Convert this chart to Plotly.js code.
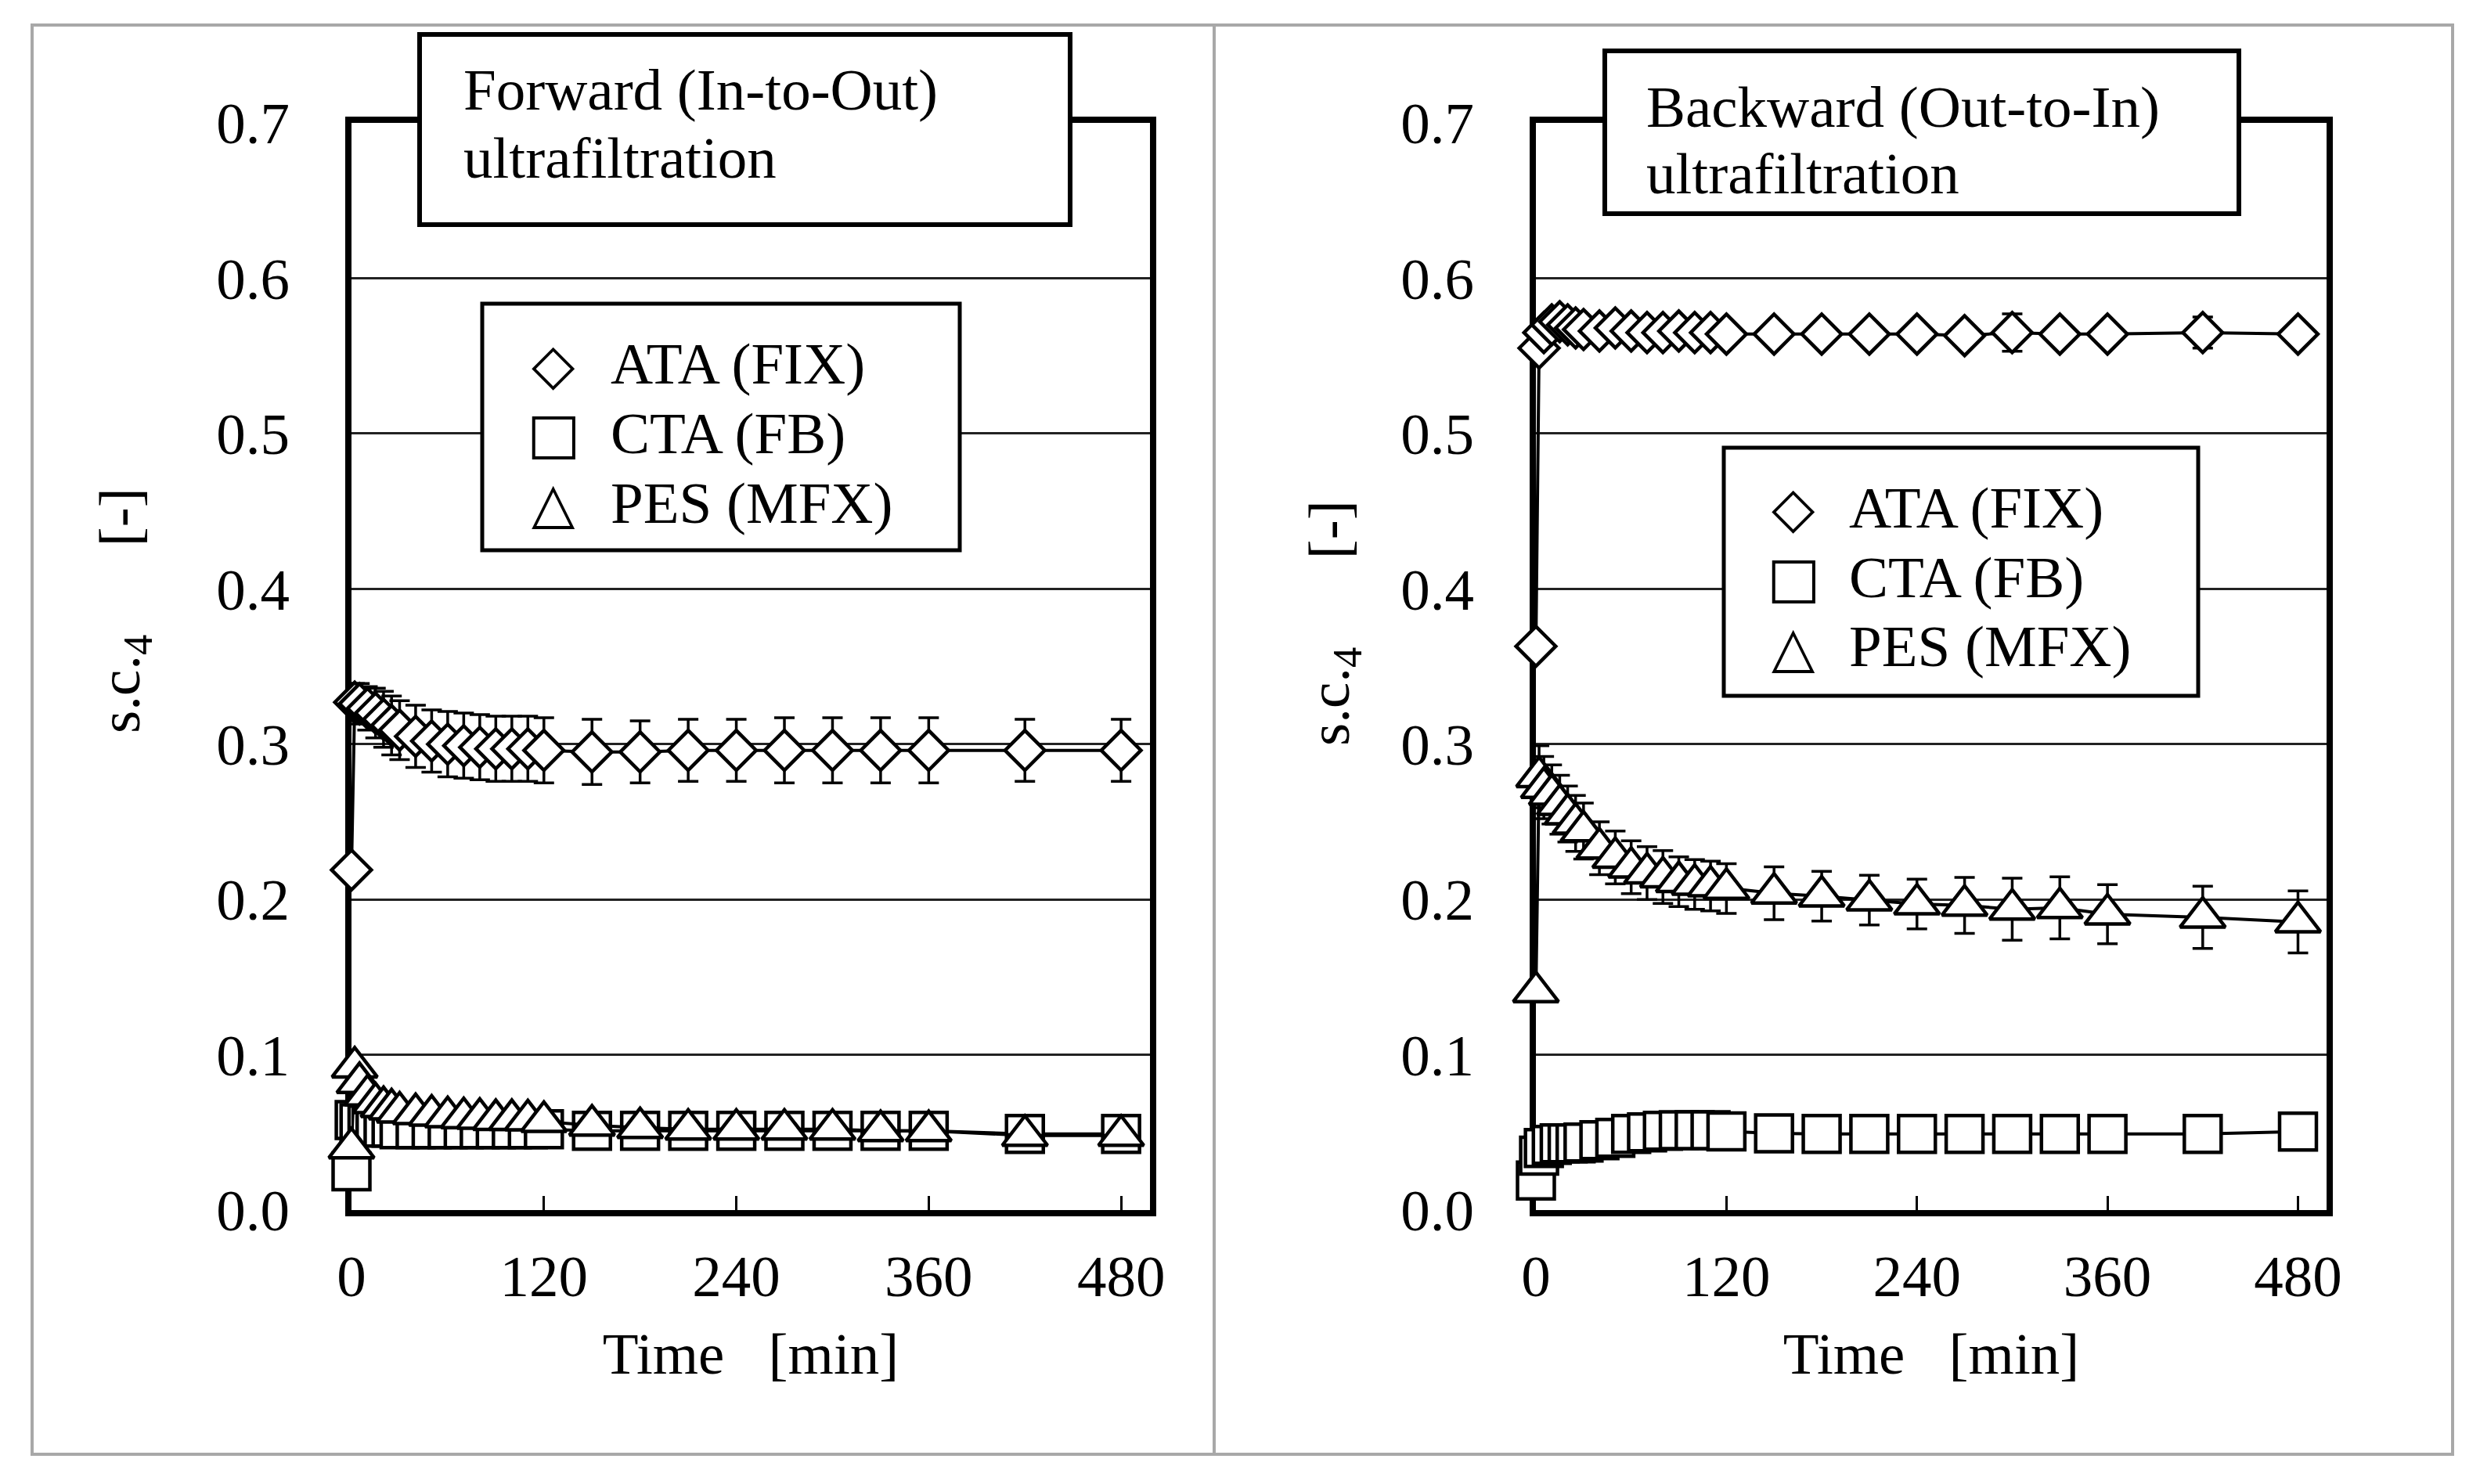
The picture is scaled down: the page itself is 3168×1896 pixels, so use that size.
<!DOCTYPE html>
<html>
<head>
<meta charset="utf-8">
<script src="https://cdn.plot.ly/plotly-3.0.1.min.js"></script>
<style>html,body{margin:0;padding:0;background:#fff;}#chart{width:3168px;height:1896px;}</style>
</head>
<body>
<div id="chart"></div>
<script>
// ---- data ----
const timeMin = [0, 2, 5, 10, 15, 20, 25, 30, 40, 50, 60, 70, 80, 90, 100, 110, 120, 150, 180, 210, 240, 270, 300, 330, 360, 420, 480];

// Forward (In-to-Out) ultrafiltration
const fwdATA = [0.219, 0.327, 0.326, 0.323, 0.320, 0.316, 0.312, 0.309, 0.305, 0.302, 0.300, 0.299, 0.298, 0.297, 0.297, 0.297, 0.296, 0.295, 0.295, 0.296, 0.296, 0.296, 0.296, 0.296, 0.296, 0.296, 0.296];
const fwdATAerr = [0.004, 0.012, 0.013, 0.014, 0.016, 0.018, 0.019, 0.019, 0.020, 0.020, 0.021, 0.021, 0.021, 0.021, 0.021, 0.021, 0.021, 0.021, 0.020, 0.020, 0.020, 0.021, 0.021, 0.021, 0.021, 0.020, 0.020];
const fwdCTA = [0.025, 0.058, 0.056, 0.055, 0.054, 0.053, 0.053, 0.052, 0.052, 0.052, 0.052, 0.052, 0.052, 0.052, 0.052, 0.052, 0.052, 0.051, 0.051, 0.051, 0.051, 0.051, 0.051, 0.051, 0.051, 0.049, 0.049];
const fwdCTAerr = [0.002, 0.003, 0.003, 0.003, 0.003, 0.003, 0.003, 0.003, 0.003, 0.003, 0.003, 0.003, 0.003, 0.003, 0.003, 0.003, 0.003, 0.003, 0.003, 0.003, 0.003, 0.003, 0.003, 0.003, 0.003, 0.003, 0.003];
const fwdPES = [0.040, 0.092, 0.082, 0.074, 0.069, 0.0665, 0.065, 0.063, 0.062, 0.061, 0.060, 0.0594, 0.059, 0.0582, 0.0582, 0.058, 0.057, 0.0546, 0.053, 0.052, 0.052, 0.052, 0.052, 0.051, 0.051, 0.048, 0.048];
const fwdPESerr = [0.003, 0.004, 0.004, 0.004, 0.004, 0.004, 0.004, 0.004, 0.004, 0.004, 0.004, 0.004, 0.004, 0.004, 0.004, 0.004, 0.004, 0.004, 0.004, 0.004, 0.004, 0.004, 0.004, 0.004, 0.004, 0.004, 0.004];

// Backward (Out-to-In) ultrafiltration
const bwdATA = [0.363, 0.555, 0.565, 0.570, 0.572, 0.570, 0.568, 0.567, 0.566, 0.568, 0.566, 0.565, 0.565, 0.566, 0.565, 0.565, 0.564, 0.564, 0.564, 0.564, 0.564, 0.563, 0.565, 0.564, 0.564, 0.565, 0.564];
const bwdATAerr = [0.004, 0.006, 0.006, 0.006, 0.006, 0.006, 0.006, 0.006, 0.006, 0.006, 0.006, 0.006, 0.006, 0.006, 0.006, 0.006, 0.006, 0.006, 0.006, 0.006, 0.006, 0.006, 0.012, 0.006, 0.006, 0.010, 0.006];
const bwdCTA = [0.019, 0.035, 0.040, 0.042, 0.043, 0.043, 0.043, 0.0435, 0.045, 0.0465, 0.049, 0.050, 0.051, 0.0514, 0.0514, 0.0514, 0.0506, 0.0494, 0.049, 0.049, 0.049, 0.049, 0.049, 0.049, 0.049, 0.049, 0.0505];
const bwdCTAerr = [0.002, 0.002, 0.002, 0.002, 0.002, 0.002, 0.002, 0.002, 0.002, 0.002, 0.002, 0.002, 0.002, 0.002, 0.002, 0.002, 0.002, 0.002, 0.002, 0.002, 0.002, 0.002, 0.002, 0.002, 0.002, 0.002, 0.002];
const bwdPES = [0.1405, 0.279, 0.272, 0.2676, 0.261, 0.255, 0.249, 0.244, 0.233, 0.227, 0.2207, 0.217, 0.2144, 0.2114, 0.2097, 0.2086, 0.207, 0.204, 0.2021, 0.1996, 0.197, 0.1962, 0.1937, 0.1946, 0.1905, 0.1885, 0.1855];
const bwdPESerr = [0.003, 0.020, 0.020, 0.019, 0.019, 0.018, 0.018, 0.018, 0.017, 0.017, 0.017, 0.017, 0.017, 0.016, 0.016, 0.016, 0.016, 0.017, 0.016, 0.016, 0.016, 0.018, 0.020, 0.020, 0.019, 0.020, 0.020];

const seriesNames = ['ATA (FIX)', 'CTA (FB)', 'PES (MFX)'];
const panelTitles = [['Forward (In-to-Out)', 'ultrafiltration'], ['Backward (Out-to-In)', 'ultrafiltration']];
const xTickVals = [0, 120, 240, 360, 480];
const yTickVals = [0.0, 0.1, 0.2, 0.3, 0.4, 0.5, 0.6, 0.7];
const xTitle = 'Time\u00a0\u00a0\u00a0[min]';
const yTitle = 's.c.<sub>4</sub>\u00a0\u00a0\u00a0\u00a0\u00a0\u00a0[-]';

// ---- layout helpers (pixel -> paper) ----
const W = 3168, H = 1896;
const fx = x => x / W;
const fy = y => 1 - y / H;
const SERIF = 'Liberation Serif, Times New Roman, serif';
const FS = 75;

const symbols = ['diamond', 'square', 'triangle-up'];
const sizes = [39, 47, 50];
const glyphs = ['\u25C7', '\u25A1', '\u25B3'];

function series(x, y, err, k, xa, ya) {
  return {
    type: 'scatter', mode: 'lines+markers', x: x, y: y, xaxis: xa, yaxis: ya,
    name: seriesNames[k], showlegend: false, cliponaxis: false,
    line: {color: '#000', width: 4},
    marker: {symbol: symbols[k], size: sizes[k], color: '#fff', line: {color: '#000', width: 4.5}},
    error_y: {type: 'data', array: err, visible: true, color: '#000', thickness: 3.5, width: 13}
  };
}

const data = [
  series(timeMin, fwdATA, fwdATAerr, 0, 'x', 'y'),
  series(timeMin, fwdCTA, fwdCTAerr, 1, 'x', 'y'),
  series(timeMin, fwdPES, fwdPESerr, 2, 'x', 'y'),
  series(timeMin, bwdATA, bwdATAerr, 0, 'x2', 'y2'),
  series(timeMin, bwdCTA, bwdCTAerr, 1, 'x2', 'y2'),
  series(timeMin, bwdPES, bwdPESerr, 2, 'x2', 'y2')
];

function xAxis(dom, anchor) {
  return {
    domain: dom, anchor: anchor, range: [0, 498], tickvals: xTickVals, ticktext: xTickVals.map(String),
    showline: true, linecolor: '#000', linewidth: 8, mirror: true,
    ticks: 'inside', ticklen: 18, tickwidth: 3, tickcolor: '#000',
    showgrid: false, zeroline: false, layer: 'below traces',
    tickfont: {family: SERIF, size: FS, color: '#000'}, ticklabelstandoff: 12,
    title: {text: xTitle, standoff: 34, font: {family: SERIF, size: FS, color: '#000'}}
  };
}
function yAxis(dom, anchor) {
  return {
    domain: dom, anchor: anchor, range: [0, 0.7], tickvals: yTickVals, tickformat: '.1f',
    showline: true, linecolor: '#000', linewidth: 8, mirror: true,
    ticks: '', showgrid: true, gridcolor: '#222', gridwidth: 3, zeroline: false, layer: 'below traces',
    tickfont: {family: SERIF, size: FS, color: '#000'}, ticklabelstandoff: 56
  };
}

const yDom = [fy(1546), fy(157)];
const panels = [
  {frame: [41, 32, 1551, 1858], tbox: [536, 44, 1367, 287], tx: 590, ty: [115, 202],
   lbox: [616, 388, 1226, 703], lsx: 707, ltx: 778, lrows: [465, 553, 642], ytx: 158, yty: 780},
  {frame: [1551, 32, 3133, 1858], tbox: [2050, 65, 2860, 273], tx: 2101, ty: [137, 222],
   lbox: [2202, 572, 2808, 889], lsx: 2291, ltx: 2360, lrows: [648, 737, 826], ytx: 1703, yty: 796}
];

const shapes = [];
const annotations = [];
panels.forEach((p, i) => {
  shapes.push({type: 'rect', xref: 'paper', yref: 'paper', x0: fx(p.frame[0]), y0: fy(p.frame[1]), x1: fx(p.frame[2]), y1: fy(p.frame[3]),
    line: {color: '#a8a8a8', width: 4}, layer: 'below'});
  shapes.push({type: 'rect', xref: 'paper', yref: 'paper', x0: fx(p.tbox[0]), y0: fy(p.tbox[1]), x1: fx(p.tbox[2]), y1: fy(p.tbox[3]),
    line: {color: '#000', width: 6}, fillcolor: '#fff', layer: 'above'});
  shapes.push({type: 'rect', xref: 'paper', yref: 'paper', x0: fx(p.lbox[0]), y0: fy(p.lbox[1]), x1: fx(p.lbox[2]), y1: fy(p.lbox[3]),
    line: {color: '#000', width: 5}, fillcolor: '#fff', layer: 'above'});
  panelTitles[i].forEach((t, j) => {
    annotations.push({xref: 'paper', yref: 'paper', x: fx(p.tx), y: fy(p.ty[j]), xanchor: 'left', yanchor: 'middle',
      text: t, showarrow: false, font: {family: SERIF, size: FS, color: '#000'}});
  });
  seriesNames.forEach((n, k) => {
    annotations.push({xref: 'paper', yref: 'paper', x: fx(p.lsx), y: fy(p.lrows[k]), xanchor: 'center', yanchor: 'middle',
      text: glyphs[k], showarrow: false, font: {family: 'DejaVu Sans', size: 72, color: '#000'}});
    annotations.push({xref: 'paper', yref: 'paper', x: fx(p.ltx), y: fy(p.lrows[k]), xanchor: 'left', yanchor: 'middle',
      text: n, showarrow: false, font: {family: SERIF, size: FS, color: '#000'}});
  });
  annotations.push({xref: 'paper', yref: 'paper', x: fx(p.ytx), y: fy(p.yty), xanchor: 'center', yanchor: 'middle',
    text: yTitle, textangle: -90, showarrow: false, font: {family: SERIF, size: FS, color: '#000'}});
});

const layout = {
  width: W, height: H, margin: {l: 0, r: 0, t: 0, b: 0},
  paper_bgcolor: '#fff', plot_bgcolor: '#fff', showlegend: false,
  xaxis: xAxis([fx(449), fx(1469)], 'y'),
  yaxis: yAxis(yDom, 'x'),
  xaxis2: xAxis([fx(1962), fx(2972)], 'y2'),
  yaxis2: yAxis(yDom, 'x2'),
  shapes: shapes, annotations: annotations
};

Plotly.newPlot('chart', data, layout, {staticPlot: true, displayModeBar: false});
</script>
</body>
</html>
